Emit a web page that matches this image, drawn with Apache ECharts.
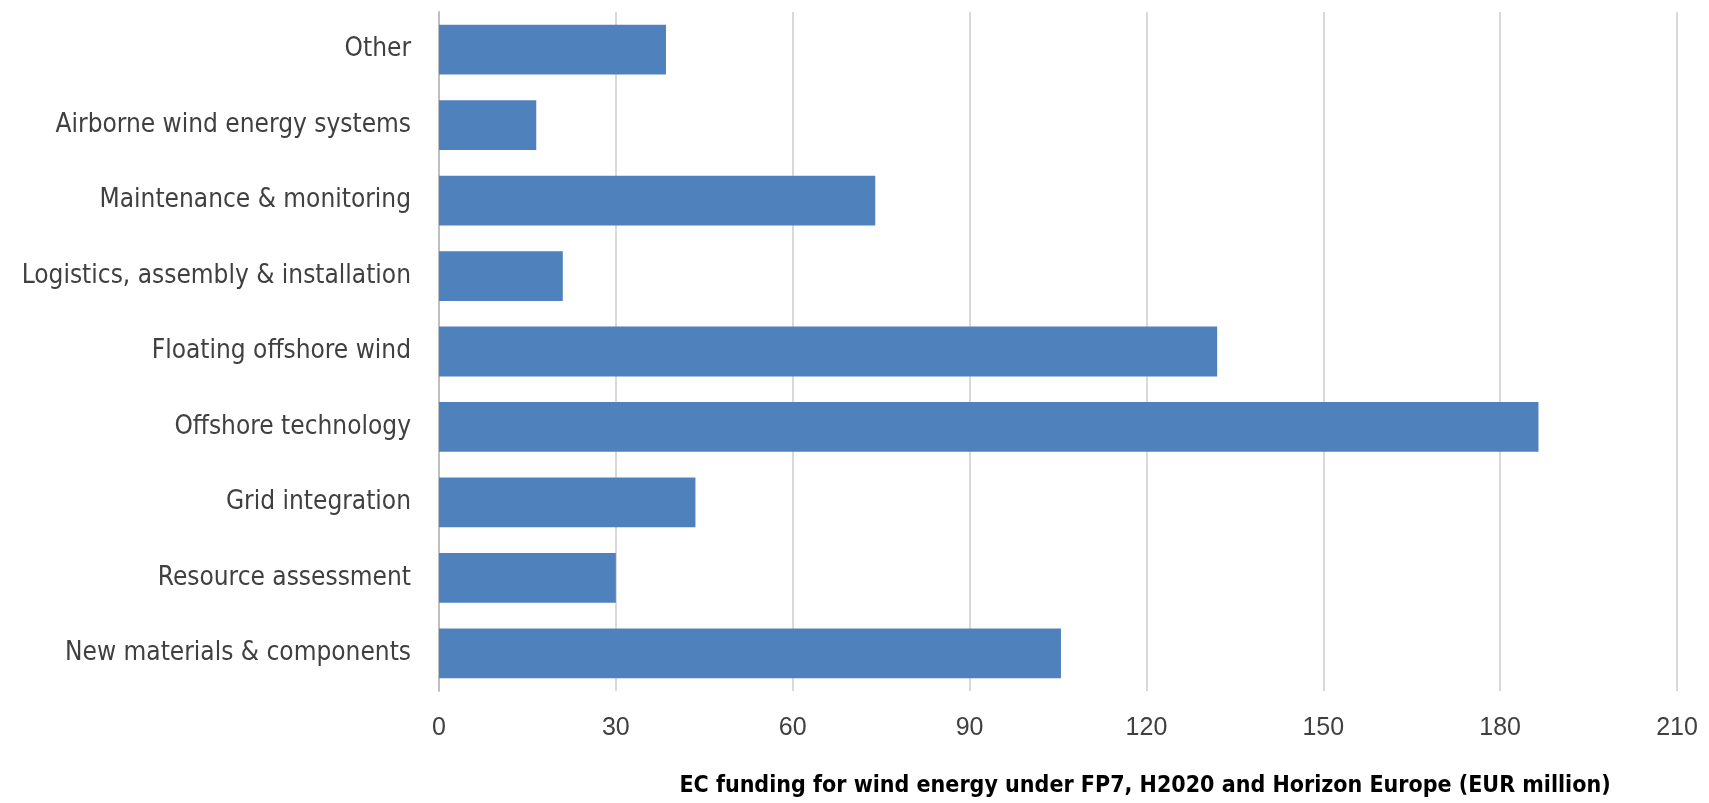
<!DOCTYPE html>
<html>
<head>
<meta charset="utf-8">
<script src="https://cdn.jsdelivr.net/npm/echarts@6/dist/echarts.min.js"></script>
<style>
  html, body { margin: 0; padding: 0; background: #fff; }
  #chart { width: 1709px; height: 803px; }
</style>
</head>
<body>
<div id="chart"></div>
<script>
// Wind energy research topics, listed bottom to top on the category axis
const categories = [
  'New materials & components',
  'Resource assessment',
  'Grid integration',
  'Offshore technology',
  'Floating offshore wind',
  'Logistics, assembly & installation',
  'Maintenance & monitoring',
  'Airborne wind energy systems',
  'Other'
];

// EC funding per topic, EUR million
const funding = [105.5, 30, 43.5, 186.5, 132, 21, 74, 16.5, 38.5];

// Value axis ticks
const axisMin = 0;
const axisMax = 210;
const axisStep = 30;

const axisTitle = 'EC funding for wind energy under FP7, H2020 and Horizon Europe (EUR million)';

const narrowFont = '"Liberation Sans Narrow", "DejaVu Sans Condensed", "Noto Sans", sans-serif';
const digitFont = '"Liberation Sans", "Noto Sans", sans-serif';

const chart = echarts.init(document.getElementById('chart'), null, { renderer: 'canvas' });

chart.setOption({
  animation: false,
  backgroundColor: '#ffffff',
  grid: { left: 439, right: 32, top: 12, bottom: 110, containLabel: false },
  xAxis: {
    type: 'value',
    min: axisMin,
    max: axisMax,
    interval: axisStep,
    axisLine: { show: false },
    axisTick: { show: false },
    splitLine: { show: true, lineStyle: { color: '#d9d9d9', width: 2 } },
    axisLabel: {
      color: '#404040',
      fontFamily: digitFont,
      fontSize: 25,
      margin: 25
    },
    name: axisTitle,
    nameLocation: 'middle',
    nameGap: 84,
    nameTextStyle: {
      color: '#000000',
      fontFamily: narrowFont,
      fontWeight: 'bold',
      fontSize: 23,
      padding: [0, 0, 0, 174]
    }
  },
  yAxis: {
    type: 'category',
    data: categories,
    axisLine: { show: true, lineStyle: { color: '#bfbfbf', width: 2 } },
    axisTick: { show: false },
    splitLine: { show: false },
    axisLabel: {
      color: '#404040',
      fontFamily: narrowFont,
      fontSize: 26,
      margin: 28
    }
  },
  series: [{
    type: 'bar',
    data: funding,
    barCategoryGap: '34%',
    itemStyle: { color: '#4f81bd' },
    label: { show: false }
  }]
});
</script>
</body>
</html>
